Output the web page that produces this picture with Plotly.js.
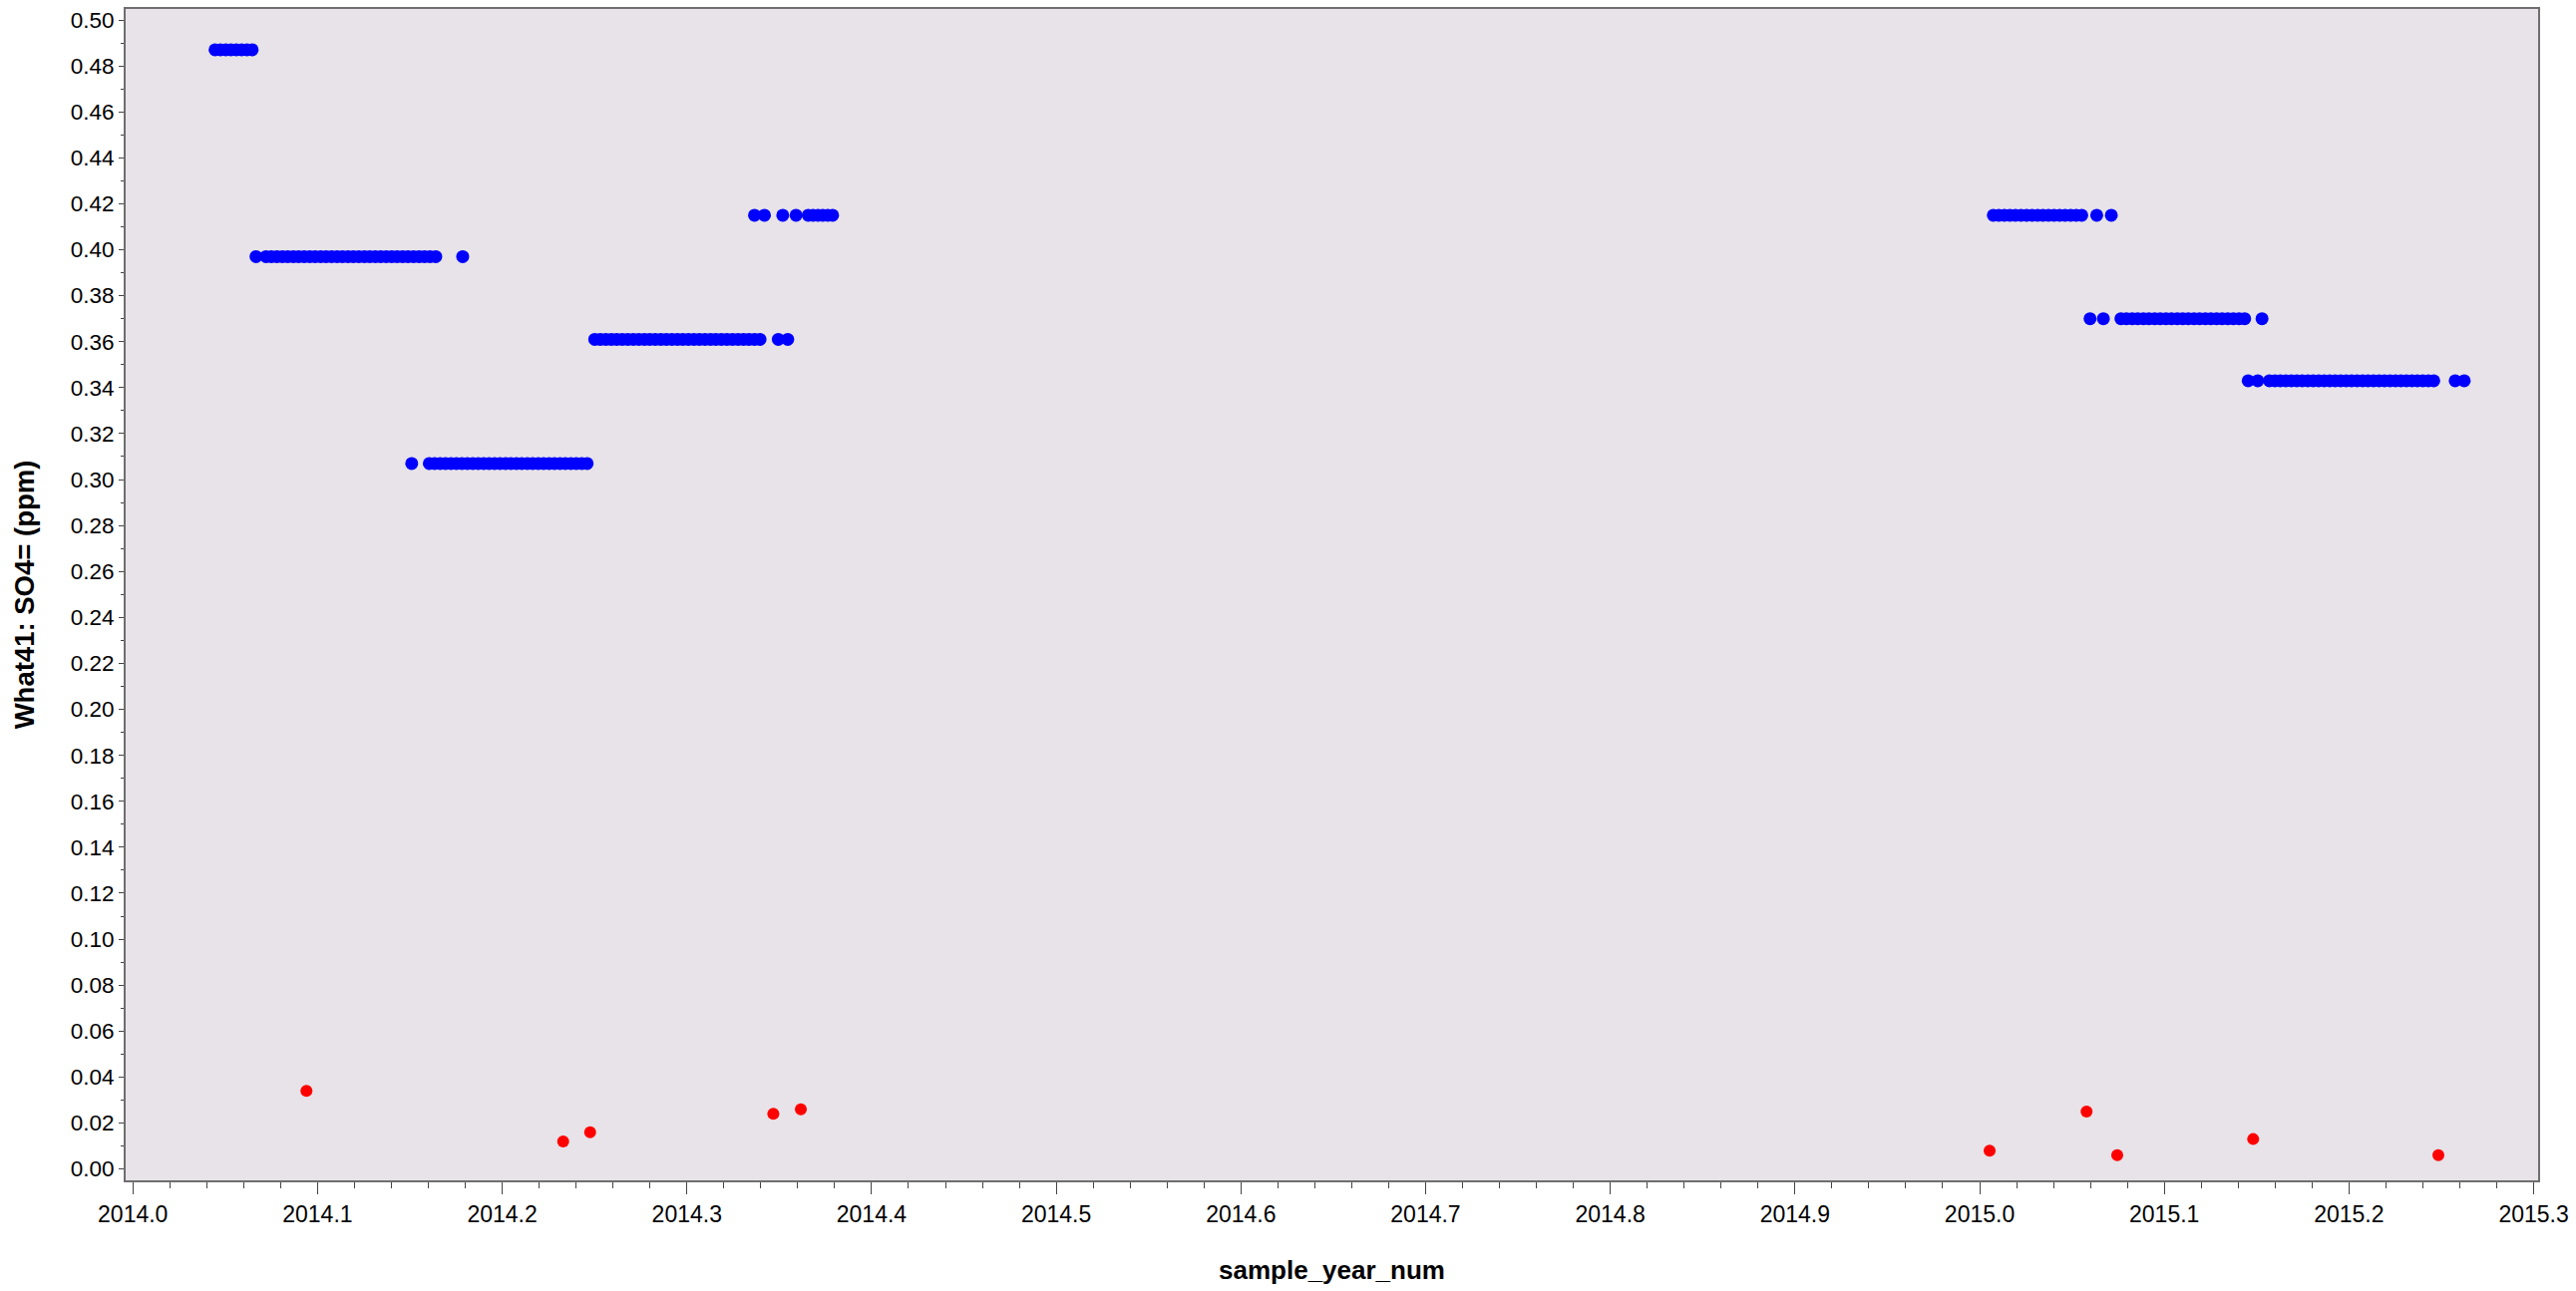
<!DOCTYPE html>
<html>
<head>
<meta charset="utf-8">
<script src="https://cdn.plot.ly/plotly-3.0.1.min.js"></script>
<style>
  html, body { margin: 0; padding: 0; background: #ffffff; }
  #chart { width: 2583px; height: 1295px; }
</style>
</head>
<body>
<div id="chart"></div>
<script>
// ---- Data ----
// Blue series: runs of samples at constant SO4= levels (ppm)
const runLevels = [0.487, 0.397, 0.307, 0.361, 0.415, 0.415, 0.370, 0.343];

const run1X = [2014.0445, 2014.0474, 2014.0503, 2014.0531, 2014.0560, 2014.0589, 2014.0618, 2014.0646];

const run2X = [2014.0667, 2014.0721, 2014.0750, 2014.0780, 2014.0810, 2014.0839, 2014.0869, 2014.0898,
  2014.0928, 2014.0958, 2014.0987, 2014.1017, 2014.1046, 2014.1076, 2014.1106, 2014.1135, 2014.1165,
  2014.1194, 2014.1224, 2014.1254, 2014.1283, 2014.1313, 2014.1342, 2014.1372, 2014.1402, 2014.1431,
  2014.1461, 2014.1490, 2014.1520, 2014.1550, 2014.1579, 2014.1609, 2014.1640, 2014.1786];

const run3X = [2014.1510, 2014.1605, 2014.1634, 2014.1664, 2014.1693, 2014.1723, 2014.1752, 2014.1782,
  2014.1811, 2014.1841, 2014.1870, 2014.1900, 2014.1929, 2014.1959, 2014.1988, 2014.2018, 2014.2047,
  2014.2077, 2014.2106, 2014.2136, 2014.2165, 2014.2195, 2014.2224, 2014.2254, 2014.2283, 2014.2313,
  2014.2342, 2014.2372, 2014.2401, 2014.2431, 2014.2460];

const run4X = [2014.2501, 2014.2531, 2014.2561, 2014.2591, 2014.2620, 2014.2650, 2014.2680, 2014.2710,
  2014.2740, 2014.2770, 2014.2799, 2014.2829, 2014.2859, 2014.2889, 2014.2919, 2014.2949, 2014.2978,
  2014.3008, 2014.3038, 2014.3068, 2014.3098, 2014.3128, 2014.3157, 2014.3187, 2014.3217, 2014.3247,
  2014.3277, 2014.3307, 2014.3336, 2014.3366, 2014.3396, 2014.3495, 2014.3546];

const run5X = [2014.3366, 2014.3420, 2014.3519, 2014.3591, 2014.3657, 2014.3683, 2014.3710, 2014.3736,
  2014.3763, 2014.3789];

const run6X = [2015.0074, 2015.0104, 2015.0134, 2015.0164, 2015.0194, 2015.0224, 2015.0254, 2015.0284,
  2015.0314, 2015.0343, 2015.0373, 2015.0403, 2015.0433, 2015.0463, 2015.0493, 2015.0523, 2015.0553,
  2015.0634, 2015.0713];

const run7X = [2015.0598, 2015.0670, 2015.0765, 2015.0795, 2015.0826, 2015.0856, 2015.0887, 2015.0917,
  2015.0948, 2015.0978, 2015.1009, 2015.1039, 2015.1070, 2015.1100, 2015.1130, 2015.1161, 2015.1191,
  2015.1222, 2015.1252, 2015.1283, 2015.1313, 2015.1344, 2015.1374, 2015.1405, 2015.1435, 2015.1529];

const run8X = [2015.1454, 2015.1506, 2015.1569, 2015.1599, 2015.1628, 2015.1658, 2015.1688, 2015.1717,
  2015.1747, 2015.1777, 2015.1806, 2015.1836, 2015.1866, 2015.1896, 2015.1925, 2015.1955, 2015.1985,
  2015.2014, 2015.2044, 2015.2074, 2015.2103, 2015.2133, 2015.2163, 2015.2192, 2015.2222, 2015.2252,
  2015.2281, 2015.2311, 2015.2341, 2015.2370, 2015.2400, 2015.2430, 2015.2459, 2015.2575, 2015.2624];

// Red series: individual low values
const redX = [2014.0940, 2014.2330, 2014.2476, 2014.3468, 2014.3617,
              2015.0054, 2015.0579, 2015.0745, 2015.1481, 2015.2484];
const redY = [0.034, 0.012, 0.016, 0.024, 0.026,
              0.008, 0.025, 0.006, 0.013, 0.006];

// Axis ticks
const xTickVals = [2014.0, 2014.1, 2014.2, 2014.3, 2014.4, 2014.5, 2014.6, 2014.7,
                   2014.8, 2014.9, 2015.0, 2015.1, 2015.2, 2015.3];
const xTickText = ["2014.0", "2014.1", "2014.2", "2014.3", "2014.4", "2014.5", "2014.6", "2014.7",
                   "2014.8", "2014.9", "2015.0", "2015.1", "2015.2", "2015.3"];

const xTitle = "sample_year_num";
const yTitle = "What41: SO4= (ppm)";

// ---- Build traces ----
const runs = [run1X, run2X, run3X, run4X, run5X, run6X, run7X, run8X];
const blueX = [];
const blueY = [];
runs.forEach(function (xs, i) {
  xs.forEach(function (x) { blueX.push(x); blueY.push(runLevels[i]); });
});

const FONT = "Liberation Sans, Arial, Helvetica, sans-serif";

const traces = [
  {
    type: "scatter", mode: "markers", x: blueX, y: blueY,
    marker: { color: "#0000FF", size: 13, line: { width: 0 } },
    hoverinfo: "x+y", showlegend: false
  },
  {
    type: "scatter", mode: "markers", x: redX, y: redY,
    marker: { color: "#FF0000", size: 12, line: { width: 0 } },
    hoverinfo: "x+y", showlegend: false
  }
];

const layout = {
  width: 2583, height: 1295,
  margin: { l: 126, r: 38, t: 9, b: 111, pad: 0 },
  paper_bgcolor: "#ffffff",
  plot_bgcolor: "#E7E3E8",
  font: { family: FONT, color: "#000000" },
  showlegend: false,
  xaxis: {
    range: [2013.9961, 2015.3024],
    tickmode: "array", tickvals: xTickVals, ticktext: xTickText,
    ticks: "outside", ticklen: 12, tickwidth: 1, tickcolor: "#444444",
    minor: { dtick: 0.02, tick0: 2014, ticks: "outside", ticklen: 6, tickwidth: 1, tickcolor: "#444444", showgrid: false },
    tickfont: { family: FONT, size: 23, color: "#000000" },
    showgrid: false, zeroline: false,
    showline: true, linecolor: "#6E6E6E", linewidth: 2, mirror: true,
    title: { text: "<b>" + xTitle + "</b>", font: { family: FONT, size: 26, color: "#000000" }, standoff: 35 },
    automargin: false
  },
  yaxis: {
    range: [-0.00495, 0.50477],
    tickmode: "linear", tick0: 0, dtick: 0.02, tickformat: ".2f",
    ticks: "outside", ticklen: 5, tickwidth: 1, tickcolor: "#444444",
    minor: { dtick: 0.01, tick0: 0, ticks: "outside", ticklen: 3, tickwidth: 1, tickcolor: "#444444", showgrid: false },
    tickfont: { family: FONT, size: 22.5, color: "#000000" },
    showgrid: false, zeroline: false,
    showline: true, linecolor: "#6E6E6E", linewidth: 2, mirror: true,
    title: { text: "<b>" + yTitle + "</b>", font: { family: FONT, size: 27.5, color: "#000000" }, standoff: 28 },
    automargin: false
  }
};

Plotly.newPlot("chart", traces, layout, { displayModeBar: false, staticPlot: true });
</script>
</body>
</html>
